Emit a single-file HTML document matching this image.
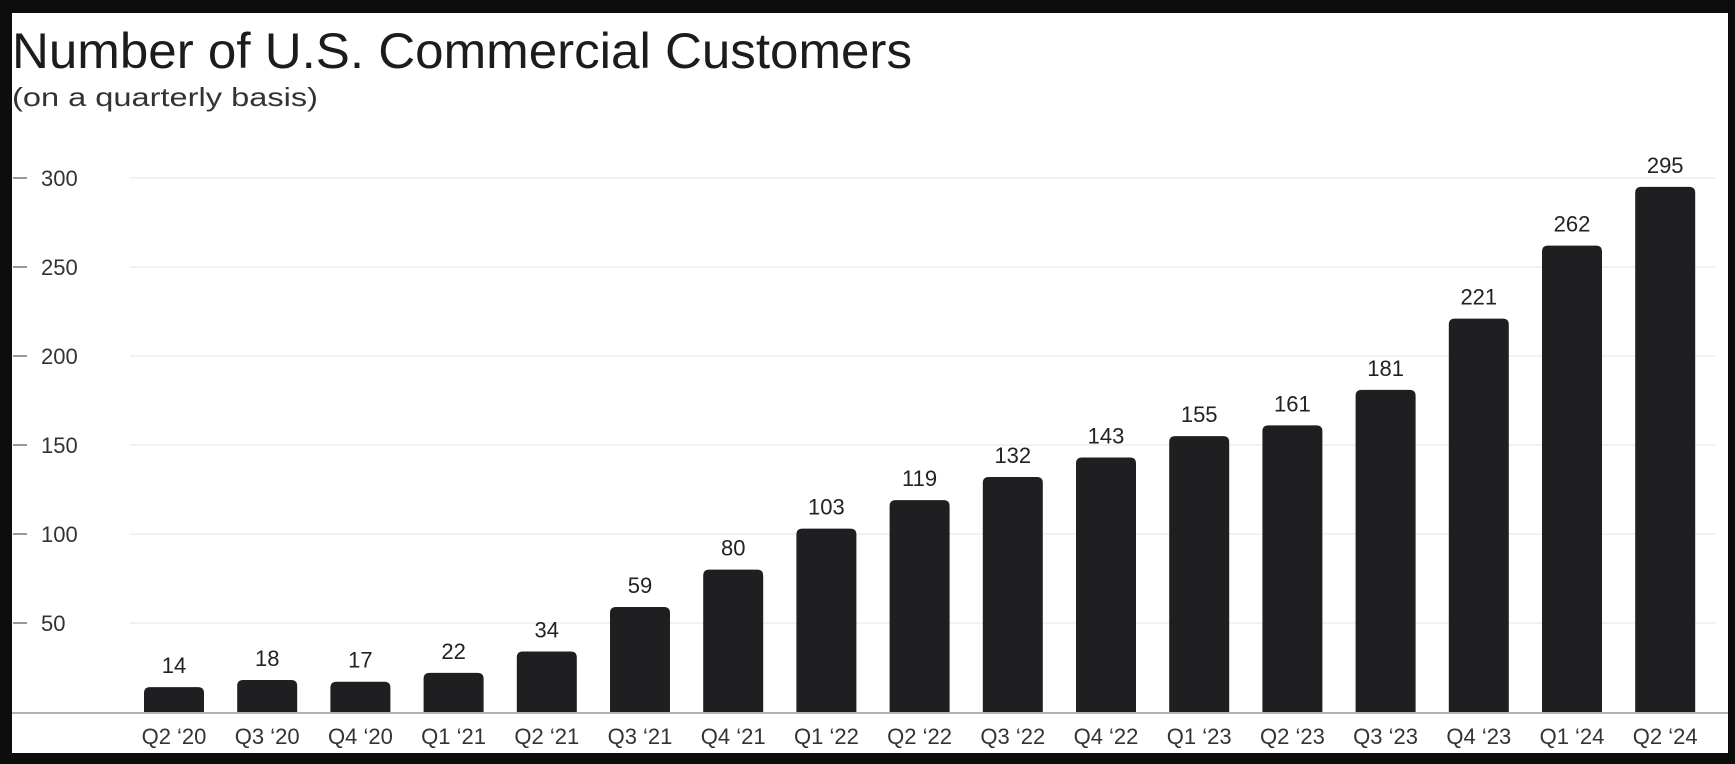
<!DOCTYPE html>
<html><head><meta charset="utf-8"><style>
html,body{margin:0;padding:0;background:#0d0d0d;}
body{width:1735px;height:764px;overflow:hidden;position:relative;font-family:"Liberation Sans",sans-serif;}
#panel{position:absolute;left:12px;top:13px;width:1716px;height:740px;background:#fff;}
</style></head><body>
<div id="panel"></div>
<svg id="chart" width="1735" height="764" style="position:absolute;left:0;top:0">
<text x="12" y="68" font-size="50" font-weight="300" fill="#1c1c1e" textLength="900" lengthAdjust="spacingAndGlyphs">Number of U.S. Commercial Customers</text>
<text x="12" y="106" font-size="26" fill="#333" textLength="306" lengthAdjust="spacingAndGlyphs">(on a quarterly basis)</text>
</svg>
<script>
const categories=["Q2 \u201820","Q3 \u201820","Q4 \u201820","Q1 \u201821","Q2 \u201821","Q3 \u201821","Q4 \u201821","Q1 \u201822","Q2 \u201822","Q3 \u201822","Q4 \u201822","Q1 \u201823","Q2 \u201823","Q3 \u201823","Q4 \u201823","Q1 \u201824","Q2 \u201824"];
const values=[14,18,17,22,34,59,80,103,119,132,143,155,161,181,221,262,295];
const ticks=[50,100,150,200,250,300];
const svg=document.getElementById('chart');
const NS='http://www.w3.org/2000/svg';
const y0=712, pxPer=1.78, x0=174, step=93.2, bw=60;
const yS=v=>y0-v*pxPer;
const xS=i=>x0+i*step;
function mk(t,a){const e=document.createElementNS(NS,t);for(const k in a)e.setAttribute(k,a[k]);svg.appendChild(e);return e;}
ticks.forEach(t=>{
  const g=mk('line',{x1:130,x2:1716,y1:yS(t),y2:yS(t),stroke:'#eeeeee','stroke-width':1.5});
  
  
  const d=mk('line',{x1:13,x2:27,y1:yS(t),y2:yS(t),stroke:'#777','stroke-width':1.5});
  
  
  const l=mk('text',{x:41,y:yS(t)+8,'font-size':22,fill:'#333'});
  l.textContent=t;
  
  
});
const base=mk('line',{x1:12,x2:1728,y1:y0+1,y2:y0+1,stroke:'#999','stroke-width':1.5});


values.forEach((v,i)=>{
  const cx=xS(i), top=yS(v), r=6;
  const p=mk('path',{d:`M${cx-bw/2},${y0} V${top+r} Q${cx-bw/2},${top} ${cx-bw/2+r},${top} H${cx+bw/2-r} Q${cx+bw/2},${top} ${cx+bw/2},${top+r} V${y0} Z`,fill:'#1f1f22'});
  
  
  const vl=mk('text',{x:cx,y:top-14,'font-size':22,fill:'#222','text-anchor':'middle'});
  vl.textContent=v;
  
  
  const xl=mk('text',{x:cx,y:744,'font-size':22,fill:'#333','text-anchor':'middle'});
  xl.textContent=categories[i];
  
  
});
</script>
</body></html>
